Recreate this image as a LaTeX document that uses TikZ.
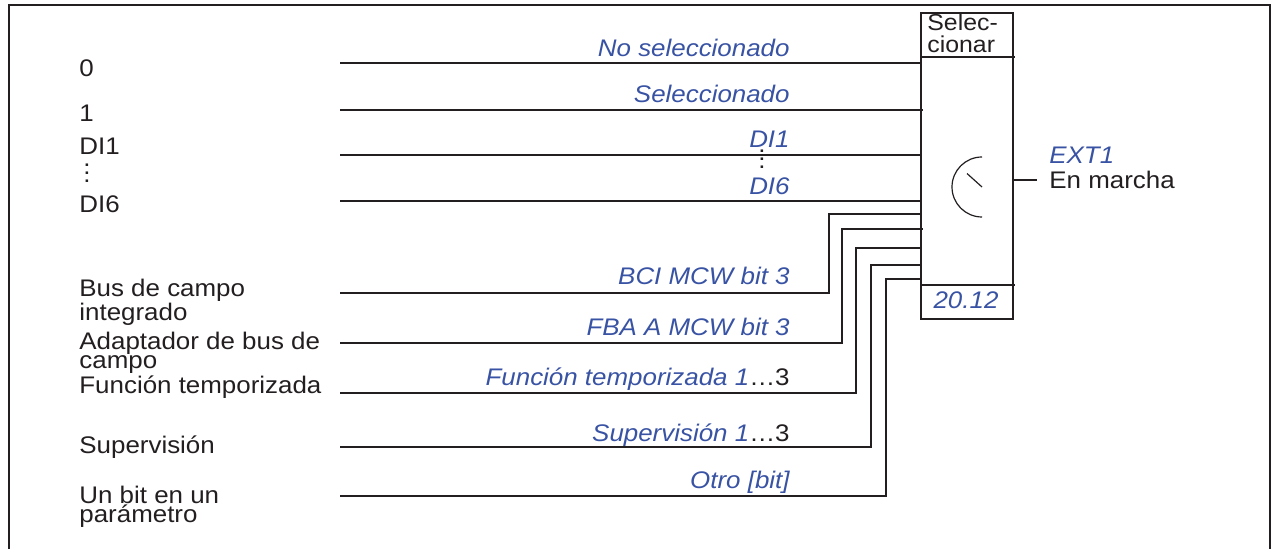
\documentclass[tikz,border=0pt]{standalone}
\usepackage{fontspec}
\setmainfont{Liberation Sans}[FakeStretch=1.08]
\definecolor{ink}{HTML}{231F20}
\definecolor{abbblue}{RGB}{57,83,164}
\begin{document}
\begin{tikzpicture}[x=0.5pt,y=-0.5pt,
  wire/.style={draw=ink, line width=1pt},
  lbl/.style={font=\fontsize{12}{9.5}\selectfont, text=ink, inner sep=0pt, align=left, anchor=base west},
  sig/.style={font=\fontsize{12}{9.5}\selectfont\itshape, text=abbblue, inner sep=0pt, anchor=base east},
  vdt/.style={font=\fontsize{12}{4}\selectfont, text=ink, inner sep=0pt, align=center, anchor=base}]
\useasboundingbox (0,0) rectangle (1274,549);
% frame
\draw[ink, line width=1.25pt] (9,549) -- (9,5) -- (1270,5) -- (1270,549);
% selector box
\node[draw=ink, line width=1pt, minimum width=46pt, minimum height=152.85pt, inner sep=0pt, anchor=north west] (box) at (920,12.3) {};
\draw[wire] (box.west |- 0,56.7) -- ([xshift=0.5pt]box.east |- 0,56.7);
\draw[wire] (box.west |- 0,285) -- ([xshift=0.5pt]box.east |- 0,285);
\node[lbl, font=\fontsize{11.5}{11}\selectfont] (hdr) at (927,53) {Selec-\\cionar};
\node[sig, anchor=base] (par) at (966,309) {20.12};
% dial
\coordinate (dc) at (982,187);
\draw[ink, line width=0.6pt] (dc) ++(0,-30) arc[start angle=90, end angle=270, radius=15pt];
\draw[ink, line width=0.6pt] (dc) -- ++(-15,-13.5);
% output
\coordinate (out) at (1037,180);
\draw[wire] (box.east |- out) -- (out);
\node[sig, anchor=base west] (ext) at (1049,164) {EXT1};
\node[lbl] (run) at (1049,189) {En marcha};
% straight inputs
\coordinate (s1) at (340,63);
\coordinate (s2) at (340,110);
\coordinate (s3) at (340,155);
\coordinate (s4) at (340,201);
\draw[wire] (s1) -- (box.west |- s1);
\draw[wire] (s2) -- ([xshift=1.5pt]box.west |- s2);
\draw[wire] (s3) -- (box.west |- s3);
\draw[wire] (s4) -- (box.west |- s4);
\node[lbl] (l1) at (79,77) {0};
\node[lbl] (l2) at (79,122) {1};
\node[lbl] (l3) at (79,155) {DI1};
\node[vdt] (ld) at (87,183) {.\\.\\.};
\node[lbl] (l4) at (79,213) {DI6};
\node[sig] (r1) at (790,57) {No seleccionado};
\node[sig] (r2) at (790,103) {Seleccionado};
\node[sig] (r3) at (790,148) {DI1};
\node[vdt] (rd) at (762,168.5) {.\\.\\.};
\node[sig] (r4) at (790,195) {DI6};
% stepped inputs
\coordinate (s5) at (340,293);
\coordinate (s6) at (340,343);
\coordinate (s7) at (340,393);
\coordinate (s8) at (340,447);
\coordinate (s9) at (340,496);
\draw[wire] (s5) -| (829,214) -- (box.west |- 0,214);
\draw[wire] (s6) -| (842,229) -- ([xshift=1.5pt]box.west |- 0,229);
\draw[wire] (s7) -| (856,248) -- (box.west |- 0,248);
\draw[wire] (s8) -| (871,265) -- (box.west |- 0,265);
\draw[wire] (s9) -| (886,279) -- (box.west |- 0,279);
\node[lbl] (l5) at (79,321) {Bus de campo\\integrado};
\node[lbl] (l6) at (79,369) {Adaptador de bus de\\campo};
\node[lbl] (l7) at (79,394) {Función temporizada};
\node[lbl] (l8) at (79,454) {Supervisión};
\node[lbl] (l9) at (79,523) {Un bit en un\\parámetro};
\node[sig] (r5) at (790,285) {BCI MCW bit 3};
\node[sig] (r6) at (790,336) {FBA A MCW bit 3};
\node[sig] (r7) at (790,386) {Función temporizada 1{\upshape\color{ink}…3}};
\node[sig] (r8) at (790,442) {Supervisión 1{\upshape\color{ink}…3}};
\node[sig] (r9) at (790,489) {Otro [bit]};
\end{tikzpicture}
\end{document}
